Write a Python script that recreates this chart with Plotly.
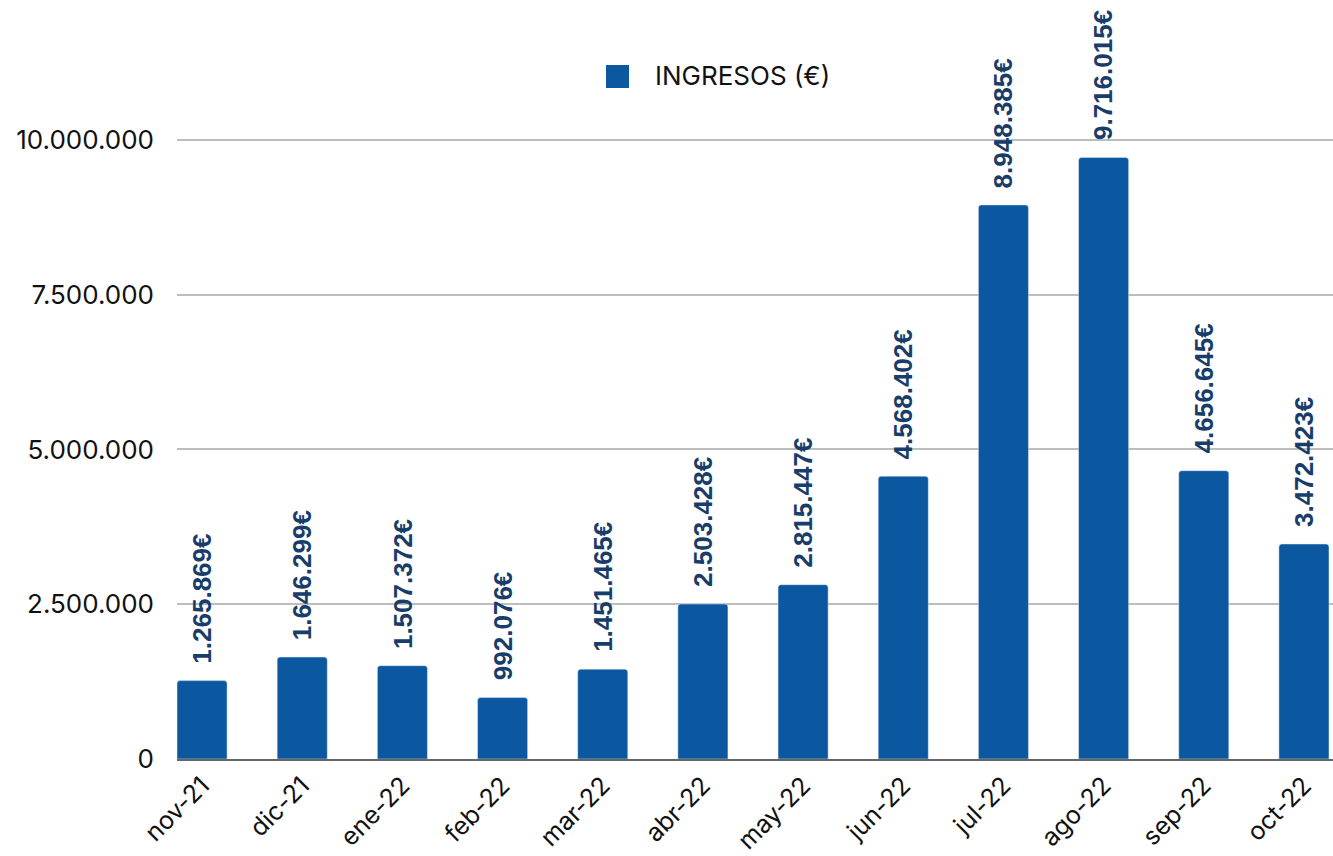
import plotly.graph_objects as go

months = ["nov-21", "dic-21", "ene-22", "feb-22", "mar-22", "abr-22",
          "may-22", "jun-22", "jul-22", "ago-22", "sep-22", "oct-22"]
ingresos = [1265869, 1646299, 1507372, 992076, 1451465, 2503428,
            2815447, 4568402, 8948385, 9716015, 4656645, 3472423]
y_ticks = [0, 2500000, 5000000, 7500000, 10000000]
series_name = "INGRESOS (€)"

BAR_COLOR = "#0b57a0"
PLOT_L, PLOT_R, PLOT_T, PLOT_B = 177, 1333, 16, 759
labels = [f"{v:,}".replace(",", ".") + "€" for v in ingresos]

fig = go.Figure()
fig.add_trace(go.Bar(
    x=months,
    y=ingresos,
    name=series_name,
    marker=dict(color=BAR_COLOR),
    width=0.5,
    showlegend=False,
))

# value labels, rotated, sitting just above each bar
for m, v, t in zip(months, ingresos, labels):
    fig.add_annotation(
        x=m, y=v, xref="x", yref="y",
        text=t, textangle=-90, showarrow=False,
        xanchor="center", yanchor="bottom", yshift=15,
        font=dict(family="Liberation Sans", size=26, color="#183d6b", weight="bold"),
    )

# legend swatch and caption
pw, ph = PLOT_R - PLOT_L, PLOT_B - PLOT_T
fig.add_shape(type="rect", xref="paper", yref="paper",
              x0=(606 - PLOT_L) / pw, x1=(629 - PLOT_L) / pw,
              y0=(PLOT_B - 88) / ph, y1=(PLOT_B - 65) / ph,
              fillcolor=BAR_COLOR, line=dict(width=0), layer="above")
fig.add_annotation(x=(653 - PLOT_L) / pw, y=(PLOT_B - 75) / ph, xref="paper", yref="paper",
                   text=series_name, showarrow=False, xanchor="left", yanchor="middle",
                   font=dict(family="Inter", size=26, color="#111111"))

fig.update_layout(
    width=1333,
    height=856,
    margin=dict(l=PLOT_L, r=1333 - PLOT_R, t=PLOT_T, b=856 - PLOT_B),
    plot_bgcolor="white",
    paper_bgcolor="white",
    separators=",.",
    barcornerradius=3,
    showlegend=False,
    xaxis=dict(
        type="category",
        range=[-0.25, 11.29],
        tickangle=-45,
        tickfont=dict(family="Inter", size=25, color="#111111"),
        showline=True,
        linecolor="#666666",
        linewidth=2,
        ticks="",
        showgrid=False,
    ),
    yaxis=dict(
        range=[0, 12000000],
        tickvals=y_ticks,
        tickformat=",d",
        tickfont=dict(family="Inter", size=26, color="#111111"),
        showgrid=True,
        gridcolor="#bdbdbd",
        gridwidth=2,
        zeroline=False,
        ticks="",
        ticklabelstandoff=22,
    ),
)

fig.write_html("out.html")
